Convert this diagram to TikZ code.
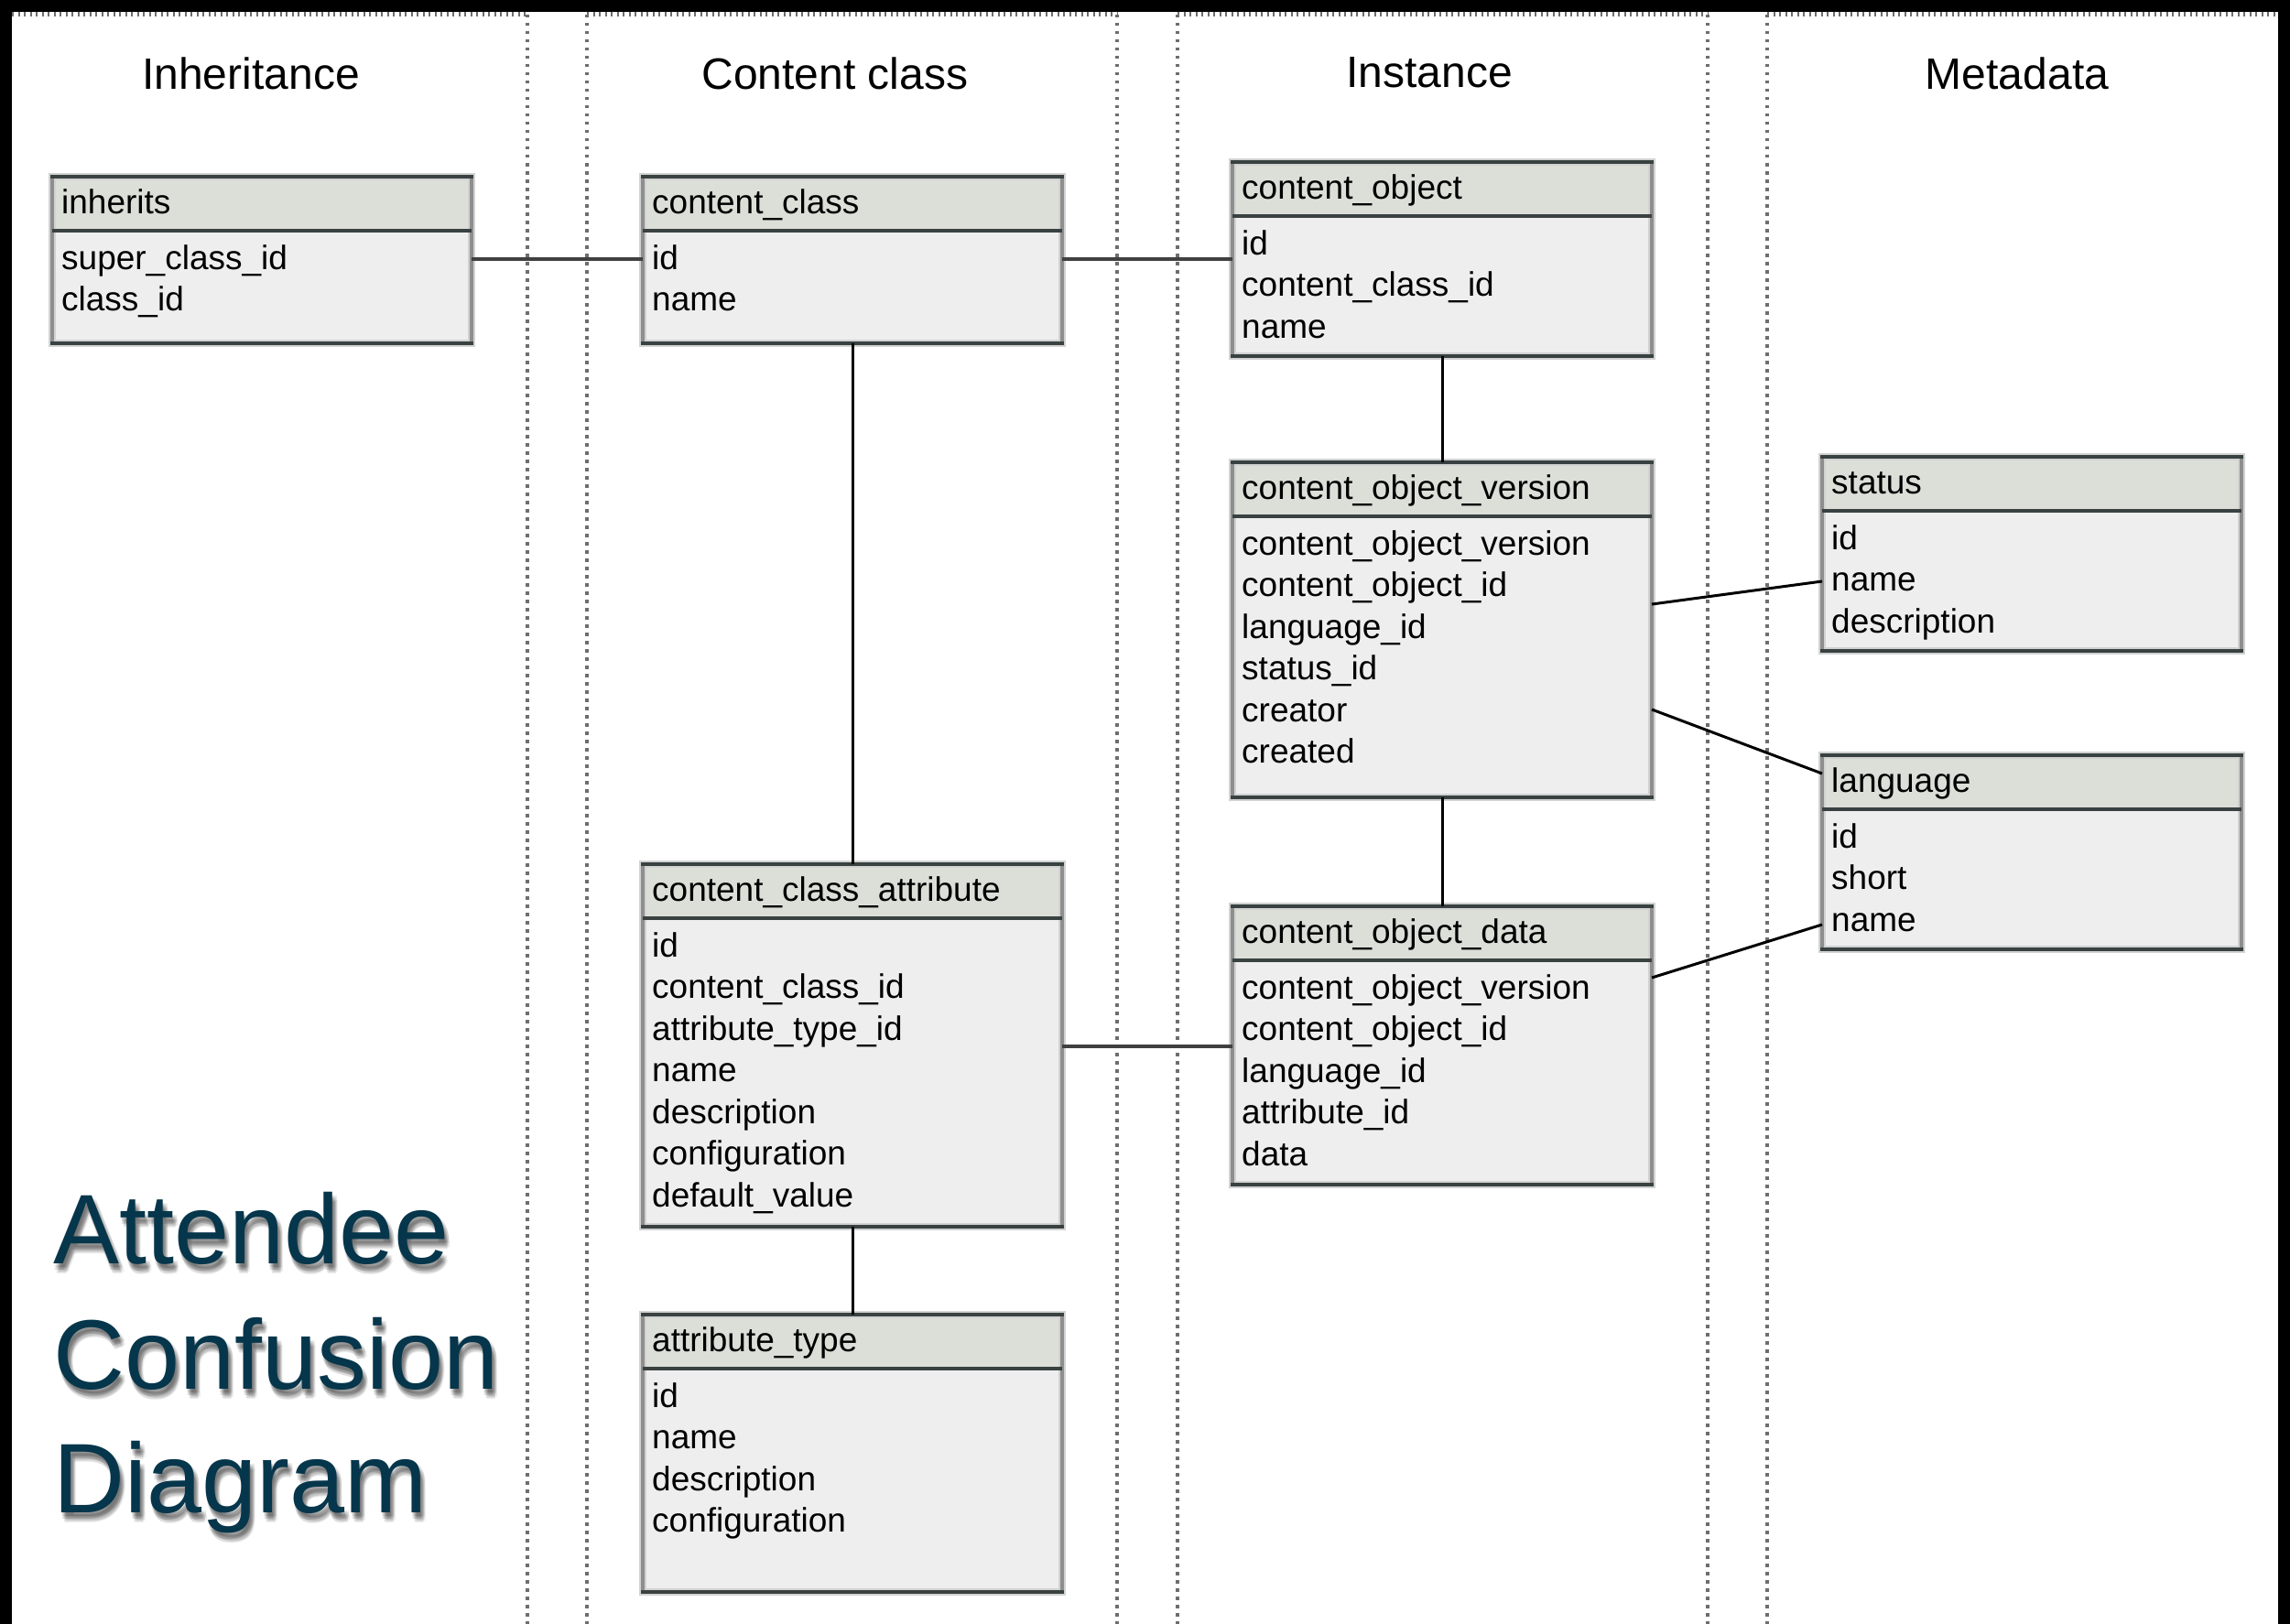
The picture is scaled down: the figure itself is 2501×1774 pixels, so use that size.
\documentclass[tikz,border=0pt]{standalone}
\usepackage{fontspec}
\setmainfont{Liberation Sans}
\usetikzlibrary{calc}

\definecolor{tblhead}{HTML}{DCDFD8}
\definecolor{tblbody}{HTML}{EEEEEE}
\definecolor{tbledge}{HTML}{394141}
\definecolor{tblside}{HTML}{8E8E8E}
\definecolor{tblhalo}{HTML}{D2D2D2}
\definecolor{titleteal}{HTML}{06364B}
\definecolor{sepgray}{HTML}{6E6E6E}
\definecolor{linkgray}{HTML}{404040}

\tikzset{
  tblbox/.style={rectangle, fill=tblbody, inner sep=0pt, outer sep=0pt, minimum width=458pt},
  cellfont/.style={font=\fontsize{37}{44}\selectfont},
  headtext/.style={cellfont, anchor=base west, inner sep=0pt, text height=27pt, text depth=8pt},
  rowtext/.style={cellfont, anchor=base west, inner sep=0pt, text height=27pt, text depth=8pt},
  colsep/.style={draw=sepgray, line width=3.5pt, dash pattern=on 3.5pt off 5.5pt},
  coltop/.style={draw=sepgray, line width=5pt, dash pattern=on 2pt off 4.5pt},
  colhead/.style={font=\fontsize{48}{56}\selectfont, anchor=base, inner sep=0pt},
  titletext/.style={font=\fontsize{108}{130}\selectfont, anchor=base west, inner sep=0pt, text=titleteal},
  titleshade/.style={titletext, text=black, text opacity=0.07},
  hlink/.style={draw=linkgray, line width=4pt},
  vlink/.style={draw=black, line width=3pt},
  dlink/.style={draw=black, line width=3pt},
}

% \ertable{name}{left x}{top y}{height}{title}{rows}
\newcommand{\ertable}[6]{%
  \node[tblbox, minimum height=#4pt, anchor=north west] (#1) at (#2,#3) {};
  \fill[tblhead] (#1.north west) rectangle ([yshift=-59pt]#1.north east);
  \draw[tblhalo, line width=8pt] (#1.north west) rectangle (#1.south east);
  \draw[tblside, line width=4pt] (#1.north west) -- (#1.south west)
                                 (#1.north east) -- (#1.south east);
  \draw[tbledge, line width=4pt] ([xshift=-2pt]#1.north west) -- ([xshift=2pt]#1.north east)
                                 ([xshift=-2pt]#1.south west) -- ([xshift=2pt]#1.south east)
                                 ([yshift=-59pt]#1.north west) -- ([yshift=-59pt]#1.north east);
  \node[headtext] (#1-h) at ([xshift=10pt,yshift=-40pt]#1.north west) {#5};
  \foreach \r [count=\i] in {#6}
    \node[rowtext] (#1-\i) at ([xshift=10pt,yshift={-(101+45.5*(\i-1))*1pt}]#1.north west) {\r};
}

\begin{document}
\begin{tikzpicture}[x=1pt, y=-1pt]
  \useasboundingbox (0,0) rectangle (2501,1774);
  % frame and page
  \fill[black] (0,0) rectangle (2501,1774);
  \fill[white] (13,13) rectangle (2488,1774);

  % column separators
  \foreach \cx in {576,641,1220,1286,1865,1930}
    \draw[colsep] (\cx,16) -- (\cx,1774);
  \draw[coltop] (13,16) -- (576,16);
  \draw[coltop] (641,16) -- (1220,16);
  \draw[coltop] (1286,16) -- (1865,16);
  \draw[coltop] (1930,16) -- (2488,16);

  % column headings
  \node[colhead] (hInh)  at (274,98)  {Inheritance};
  \node[colhead] (hCls)  at (912,98)  {Content class};
  \node[colhead] (hIns)  at (1561,96) {Instance};
  \node[colhead] (hMeta) at (2203,98) {Metadata};

  % title with soft shadow
  \foreach \dx/\dy [count=\k] in {1/4,3/5,5/6,2/7,4/8,6/9,3/10,1/7,5/4,4/11} {
    \node[titleshade] (sa\k) at (58+\dx,1380+\dy) {Attendee};
    \node[titleshade] (sb\k) at (58+\dx,1517+\dy) {Confusion};
    \node[titleshade] (sc\k) at (58+\dx,1652+\dy) {Diagram};
  }
  \node[titletext] (tA) at (58,1380) {Attendee};
  \node[titletext] (tB) at (58,1517) {Confusion};
  \node[titletext] (tC) at (58,1652) {Diagram};

  % tables
  \ertable{inherits}{57}{193}{182}{inherits}{super\_class\_id,class\_id}
  \ertable{cc}{702}{193}{182}{content\_class}{id,name}
  \ertable{co}{1346}{177}{212}{content\_object}{id,content\_class\_id,name}
  \ertable{cov}{1346}{505}{366}{content\_object\_version}{content\_object\_version,content\_object\_id,language\_id,status\_id,creator,created}
  \ertable{status}{1990}{499}{212}{status}{id,name,description}
  \ertable{language}{1990}{825}{212}{language}{id,short,name}
  \ertable{cod}{1346}{990}{304}{content\_object\_data}{content\_object\_version,content\_object\_id,language\_id,attribute\_id,data}
  \ertable{cca}{702}{944}{396}{content\_class\_attribute}{id,content\_class\_id,attribute\_type\_id,name,description,configuration,default\_value}
  \ertable{atype}{702}{1436}{303}{attribute\_type}{id,name,description,configuration}

  % relations
  \coordinate (j1) at ([yshift=-90pt]inherits.north east);
  \draw[hlink] (j1) -- (j1 -| cc.west);
  \coordinate (j2) at ([yshift=-90pt]cc.north east);
  \draw[hlink] (j2) -- (j2 -| co.west);
  \coordinate (j3) at ([yshift=-199pt]cca.north east);
  \draw[hlink] (j3) -- (j3 -| cod.west);
  \draw[vlink] (cc.south) -- (cca.north);
  \draw[vlink] (cca.south) -- (atype.north);
  \draw[vlink] (co.south) -- (cov.north);
  \draw[vlink] (cov.south) -- (cod.north);
  \draw[dlink] ([yshift=-155pt]cov.north east) -- ([yshift=-136pt]status.north west);
  \draw[dlink] ([yshift=-270pt]cov.north east) -- ([yshift=-20pt]language.north west);
  \draw[dlink] ([yshift=-78pt]cod.north east) -- ([yshift=-185pt]language.north west);
\end{tikzpicture}
\end{document}
